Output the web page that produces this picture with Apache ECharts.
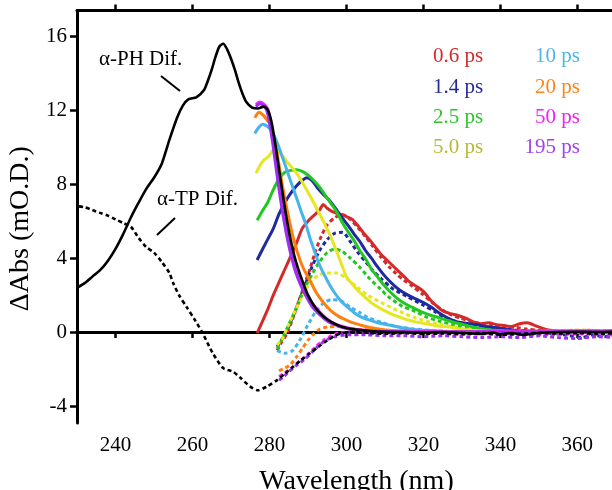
<!DOCTYPE html>
<html>
<head>
<meta charset="utf-8">
<script src="https://cdn.jsdelivr.net/npm/echarts@6/dist/echarts.min.js"></script>
<style>
  html, body { margin: 0; padding: 0; background: #fff; }
  #chart { width: 612px; height: 490px; }
</style>
</head>
<body>
<div id="chart"></div>
<script>
// Axis ticks
const xTicks = [240, 260, 280, 300, 320, 340, 360];
const yTicks = [-4, 0, 4, 8, 12, 16];

// Reference difference spectra: [wavelength nm, ΔAbs mO.D.]
const phDif = [[230,2.4],[232,2.65],[234,3.0],[236,3.35],[238,3.85],[240,4.5],[242,5.3],[244,6.2],[246,7.0],[248,7.75],[250,8.35],[252,9.1],[254,10.4],[256,11.6],[257.5,12.25],[259,12.6],[261,12.7],[263,13.1],[264,13.6],[265,14.2],[266,14.9],[267,15.45],[268,15.6],[269,15.3],[270,14.8],[271,14.2],[272,13.5],[273,12.9],[274,12.45],[275.5,12.15],[277,12.1],[278.5,12.2],[279.5,12.05],[280.5,11.4],[281.5,10.2],[282.5,8.8],[283.5,7.4],[284.5,6.1],[285.5,5.0],[286.5,4.1],[287.5,3.4],[288.5,2.8],[290,2.0],[292,1.3],[294,0.85],[296,0.55],[298,0.35],[300,0.22],[303,0.12],[306,0.06],[310,0.02],[315,0.0],[320,-0.02],[325,0.0],[330,-0.05],[335,-0.1],[338,-0.02],[340,-0.12],[343,-0.05],[346,-0.15],[350,-0.05],[355,0.0],[360,0.02],[365,0.0],[370,0.02]];
const tpDif = [[230.5,6.8],[232,6.75],[234,6.6],[236,6.45],[238,6.3],[240,6.1],[242,5.9],[244,5.7],[246,5.1],[248,4.6],[250,4.3],[252,3.8],[254,3.2],[255,2.65],[256.5,2.0],[258.5,1.35],[260.5,0.7],[262.5,0.0],[265.3,-1.15],[268,-1.95],[270.6,-2.15],[272.3,-2.45],[275,-2.95],[277,-3.15],[279.3,-2.95],[282,-2.6],[284,-2.25],[286,-1.9],[288,-1.55],[290.5,-1.15],[293,-0.75],[295,-0.45],[297,-0.2],[299,-0.05],[302,0.0],[306,-0.05],[310,-0.1],[315,-0.05],[320,-0.1],[325,-0.08],[330,-0.12],[335,-0.05],[340,-0.15],[345,-0.1],[350,-0.05],[355,-0.08],[360,-0.05],[365,-0.1],[370,-0.05]];

// Transient spectra (solid)
const s06 = [[276.8,-0.05],[278,0.5],[279.5,1.2],[281,2.0],[282.5,2.7],[284,3.4],[285.5,4.1],[287,4.8],[288.5,5.6],[290,6.0],[291.5,6.3],[293,6.6],[294,6.9],[295,6.7],[296.5,6.5],[298,6.4],[300,6.25],[301.5,6.1],[303,5.75],[304.5,5.35],[306,5.0],[307.5,4.6],[309,4.2],[310.5,3.9],[312,3.6],[313.5,3.3],[315,3.0],[316.5,2.7],[318,2.5],[320,2.2],[322,1.7],[323.5,1.4],[325,1.15],[327,1.0],[329,0.9],[331,0.75],[333,0.55],[335,0.45],[337,0.5],[339,0.4],[341,0.35],[343,0.3],[345,0.45],[347,0.5],[349,0.35],[351,0.2],[353,0.1],[356,0.05],[360,0.05],[363,0.1],[366,0.05],[370,0.1]];
const s14 = [[276.8,3.9],[278,4.4],[279.5,5.0],[281,5.6],[282.5,6.4],[284,7.0],[285.5,7.5],[287,7.9],[288.5,8.2],[289.7,8.35],[291,8.2],[292.5,7.8],[294,7.45],[295.7,7.1],[297.5,6.6],[299,6.15],[300.5,5.75],[302,5.3],[303.5,4.9],[305,4.4],[306.5,4.0],[308,3.55],[309.5,3.15],[311,2.8],[312.5,2.5],[314,2.25],[316,2.0],[318,1.8],[320,1.6],[322,1.35],[324,1.05],[326,0.8],[328,0.6],[330,0.5],[332,0.45],[334,0.4],[336,0.3],[338,0.25],[340,0.2],[343,0.1],[346,0.05],[350,0.05],[355,0.0],[360,0.05],[365,0.0],[370,0.05]];
const s25 = [[276.8,6.05],[278,6.5],[279.5,7.0],[281,7.7],[282.5,8.3],[284,8.65],[285.5,8.75],[287,8.78],[288.5,8.7],[290,8.5],[291.5,8.2],[293,7.85],[294.5,7.4],[296,6.95],[297.5,6.5],[299,5.9],[300.5,5.4],[302,4.95],[303.5,4.4],[305,3.95],[306.5,3.4],[308,3.0],[309.5,2.6],[311,2.25],[312.5,1.95],[314,1.7],[316,1.45],[318,1.25],[320,1.05],[322,0.9],[324,0.78],[326,0.65],[328,0.52],[330,0.42],[332,0.32],[334,0.22],[336,0.15],[338,0.1],[342,0.05],[350,0.02],[360,0.05],[370,0.0]];
const s50 = [[276.5,8.6],[277.5,9.0],[278.5,9.3],[279.5,9.45],[280.5,9.7],[281.3,9.95],[282.3,9.75],[283.5,9.5],[285,9.1],[286.5,8.75],[288,8.3],[289.5,7.75],[291,7.2],[292.5,6.6],[294,6.0],[295.5,5.35],[297,4.6],[298.5,3.8],[300,3.0],[301.5,2.6],[303,2.25],[305,1.85],[307,1.5],[309.5,1.2],[312,0.95],[314,0.8],[316,0.65],[318,0.55],[320,0.47],[322.5,0.38],[325,0.3],[327,0.27],[330,0.15],[333,0.08],[336,0.05],[340,0.02],[350,0.0],[360,0.02],[370,0.0]];
const s10 = [[276.2,10.75],[277.3,11.1],[278.3,11.25],[279.3,11.15],[280.3,10.95],[281.3,10.6],[282.3,10.1],[283.3,9.5],[284.3,8.9],[285.3,8.3],[286.3,7.7],[287.3,7.1],[288.3,6.5],[289.5,5.8],[290.5,5.1],[291.5,4.5],[292.5,3.9],[293.5,3.4],[294.5,3.0],[295.5,2.6],[297,2.1],[298.5,1.7],[300,1.4],[302,1.05],[304,0.8],[306,0.65],[308,0.52],[311,0.38],[314,0.25],[317,0.15],[320,0.1],[325,0.05],[330,0.02],[340,0.0],[350,0.02],[360,0.0],[370,0.02]];
const s20 = [[276.2,11.6],[277.3,11.9],[278.3,11.75],[279.3,11.5],[280.3,11.2],[281.3,10.4],[282.3,9.3],[283.3,8.0],[284.3,6.9],[285.3,5.9],[286.3,5.0],[287.3,4.3],[288.3,3.7],[289.3,3.25],[290.5,2.8],[292,2.2],[294,1.6],[296,1.15],[298,0.85],[300,0.65],[302,0.48],[305,0.3],[308,0.18],[312,0.08],[316,0.05],[320,0.05],[330,0.02],[340,0.05],[350,0.05],[360,0.08],[370,0.05]];
const s50ps = [[276.5,12.3],[277.5,12.45],[278.5,12.35],[279.5,12.1],[280.3,11.4],[281.2,10.2],[282.1,8.9],[283,7.6],[284,6.3],[285,5.2],[286,4.3],[287,3.5],[288,2.9],[289.5,2.2],[291,1.6],[293,1.1],[295,0.7],[297,0.45],[299,0.3],[302,0.15],[306,0.08],[310,0.03],[320,0.05],[330,0.0],[340,0.05],[350,0.0],[360,0.05],[370,0.0]];
const s195 = [[276.5,12.2],[277.5,12.35],[278.5,12.25],[279.3,12.0],[280.1,11.2],[281,10.0],[281.9,8.6],[282.8,7.3],[283.8,6.0],[284.8,4.9],[285.8,4.0],[286.8,3.25],[288,2.6],[289.5,1.95],[291,1.4],[293,0.95],[295,0.6],[297,0.4],[299,0.25],[302,0.12],[306,0.05],[310,0.02],[320,0.0],[330,0.02],[340,0.0],[350,0.02],[360,0.0],[370,0.02]];

// Transient spectra (dotted)
const d06 = [[282,-1.0],[283,-0.6],[284.5,-0.1],[286,0.7],[287.5,1.6],[289,2.5],[290.5,3.4],[292,4.4],[293.5,5.2],[295,5.8],[297,6.2],[299,6.35],[301,6.1],[303,5.65],[305,5.15],[307,4.6],[309,4.05],[311,3.55],[313,3.15],[315,2.8],[317,2.5],[319.5,2.1],[322,1.65],[324.5,1.25],[327,0.95],[329.5,0.75],[332,0.6],[335,0.45],[338,0.38],[341,0.3],[344,0.25],[347,0.15],[350,0.1],[354,0.05],[358,0.0],[362,0.05],[366,0.0],[370,0.05]];
const d14 = [[282,-0.8],[283.5,-0.3],[285,0.3],[287,1.3],[289,2.4],[291,3.5],[293,4.4],[295,5.0],[297,5.35],[299,5.4],[301,4.9],[303,4.3],[305,3.8],[307,3.3],[309,2.9],[312,2.35],[316,1.9],[320,1.45],[323,1.1],[325,0.85],[328,0.6],[331,0.45],[334,0.35],[337,0.28],[340,0.2],[344,0.1],[348,0.05],[352,-0.05],[355,-0.1],[358,-0.2],[361,-0.3],[364,-0.15],[367,-0.25],[370,-0.1]];
const d25 = [[282,-0.9],[283,-0.5],[285,0.4],[287,1.3],[289,2.3],[291,3.1],[293,3.8],[295,4.3],[297,4.5],[299,4.35],[301,4.0],[303.5,3.5],[306,2.9],[309,2.3],[311,1.9],[314.5,1.4],[317,1.2],[321,0.8],[324,0.6],[328,0.38],[332,0.2],[336,0.1],[340,0.05],[345,-0.05],[350,0.0],[355,-0.05],[360,0.05],[365,0.0],[370,0.05]];
const d50 = [[282,-0.7],[283.5,-0.3],[285,0.4],[287,1.3],[289,2.1],[291,2.8],[293,3.1],[295,3.2],[297.5,3.2],[300,2.9],[303,2.4],[305.5,2.0],[309.5,1.55],[314,1.1],[318,0.76],[322.5,0.5],[326,0.35],[330,0.2],[335,0.1],[340,0.05],[345,-0.05],[350,0.0],[360,0.0],[370,0.0]];
const d10 = [[282,-1.0],[284,-1.15],[286,-1.0],[288,-0.4],[290,0.4],[292,1.1],[294,1.55],[296,1.75],[298.5,1.7],[301,1.35],[303.5,1.05],[305.5,0.8],[309.5,0.5],[313,0.3],[318,0.15],[325,0.05],[335,0.0],[345,-0.05],[355,0.0],[370,0.0]];
const d20 = [[282.5,-2.1],[284,-1.95],[285.5,-1.75],[287,-1.35],[288.5,-0.9],[290,-0.45],[291.5,-0.1],[293,0.15],[295,0.27],[297.5,0.3],[300,0.25],[303,0.15],[307,0.1],[312,0.05],[320,0.05],[330,0.0],[340,0.05],[350,0.05],[360,0.1],[370,0.05]];
const d50ps = [[282.5,-2.4],[284,-2.2],[286,-1.9],[288,-1.55],[290,-1.2],[292,-0.8],[294,-0.45],[296,-0.2],[298,-0.05],[301,0.0],[305,0.0],[310,-0.05],[320,-0.05],[330,-0.1],[340,-0.1],[350,-0.15],[360,-0.1],[370,-0.15]];
const d195 = [[282.5,-2.6],[283.5,-2.45],[285,-2.15],[287,-1.8],[289,-1.5],[291,-1.1],[293,-0.7],[295,-0.4],[297,-0.25],[300,-0.15],[305,-0.15],[310,-0.2],[315,-0.2],[320,-0.25],[325,-0.2],[330,-0.25],[335,-0.3],[340,-0.25],[345,-0.3],[350,-0.2],[355,-0.3],[360,-0.35],[365,-0.25],[370,-0.3]];

const zeroLine = [[231.6,0],[370,0]];

const delays = ['0.6 ps','1.4 ps','2.5 ps','5.0 ps','10 ps','20 ps','50 ps','195 ps'];
const lineColors = ['#d42a2a','#1f2a9e','#22c722','#e6e622','#46b4ea','#ff7f0e','#ff22ff','#9b30f0'];
const textColors = ['#d42a2a','#24289a','#2ec52e','#b9b93c','#4db6ea','#ff8419','#f020f0','#a040f0'];
const solidSets = [s06, s14, s25, s50, s10, s20, s50ps, s195];
const dottedSets = [d06, d14, d25, d50, d10, d20, d50ps, d195];

const FONT = "'Liberation Serif', 'Times New Roman', serif";

function line(name, data, color, width, dashed, z) {
  return {
    name, type: 'line', data, showSymbol: false, smooth: 0.25,
    xAxisIndex: 0, yAxisIndex: 0, silent: true, z,
    lineStyle: { color, width, type: dashed ? [4, 3] : 'solid' }
  };
}

const series = [line('zero', zeroLine, '#000', 1.2, false, 1)];
dottedSets.forEach((d, i) => series.push(line(delays[i] + ' dotted', d, lineColors[i], 3, true, 2)));
solidSets.forEach((d, i) => series.push(line(delays[i], d, lineColors[i], 3, false, 3)));
series.push(line('α-TP Dif.', tpDif, '#000', 2.6, true, 4));
series.push(line('α-PH Dif.', phDif, '#000', 2.6, false, 4));

// Coloured delay labels in two columns
const legendText = [];
delays.forEach((d, i) => {
  const col = i < 4 ? 0 : 1;
  const row = i % 4;
  legendText.push({
    type: 'text',
    left: col === 0 ? 433 : null,
    right: col === 1 ? 32 : null,
    top: [58, 89, 119, 149][row] - 12,
    style: { text: d, fill: textColors[i], font: '21px ' + FONT, textVerticalAlign: 'top' }
  });
});

const chart = echarts.init(document.getElementById('chart'), null, { renderer: 'canvas' });
chart.setOption({
  animation: false,
  backgroundColor: '#fff',
  grid: { left: 77, right: 0, top: 10.5, bottom: 67, containLabel: false, outerBoundsMode: 'none' },
  xAxis: [
    {
      type: 'value', min: 230, max: 369, position: 'bottom',
      name: 'Wavelength (nm)', nameLocation: 'middle', nameGap: 45,
      nameTextStyle: { fontFamily: FONT, fontSize: 28, color: '#000', padding: [0, 0, 0, 24] },
      axisLine: { lineStyle: { color: '#000', width: 3 } },
      axisTick: { customValues: xTicks, length: 6, lineStyle: { width: 2.5, color: '#000' } },
      axisLabel: { customValues: xTicks, margin: 12, fontFamily: FONT, fontSize: 21, color: '#000' },
      splitLine: { show: false }
    },
    {
      type: 'value', min: 230, max: 369, position: 'top',
      axisLine: { lineStyle: { color: '#000', width: 3 } },
      axisTick: { customValues: xTicks, length: 6, lineStyle: { width: 2.5, color: '#000' } },
      axisLabel: { show: false },
      splitLine: { show: false }
    }
  ],
  yAxis: {
    type: 'value', min: -4.92, max: 17.4,
    name: 'ΔAbs (mO.D.)', nameLocation: 'middle', nameGap: 40, nameRotate: 90,
    nameTextStyle: { fontFamily: FONT, fontSize: 28, color: '#000', padding: [0, 24, 0, 0] },
    axisLine: { show: true, lineStyle: { color: '#000', width: 3 } },
    axisTick: { show: true, customValues: yTicks, length: 7, lineStyle: { width: 2.5, color: '#000' } },
    axisLabel: { customValues: yTicks, margin: 10, fontFamily: FONT, fontSize: 21, color: '#000' },
    splitLine: { show: false }
  },
  series,
  graphic: [
    { type: 'text', left: 99, top: 49, style: { text: 'α-PH Dif.', fill: '#000', font: '21px ' + FONT } },
    { type: 'line', shape: { x1: 161, y1: 76, x2: 180, y2: 91 }, style: { stroke: '#000', lineWidth: 2 } },
    { type: 'text', left: 157, top: 189, style: { text: 'α-TP Dif.', fill: '#000', font: '21px ' + FONT } },
    { type: 'line', shape: { x1: 175, y1: 218, x2: 157, y2: 235 }, style: { stroke: '#000', lineWidth: 2 } },
    ...legendText
  ]
});
</script>
</body>
</html>
